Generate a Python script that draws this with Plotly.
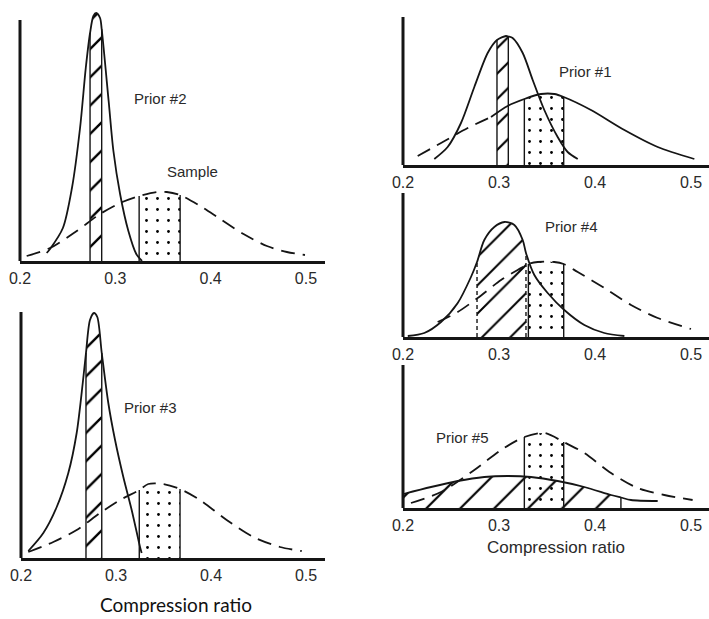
import numpy as np
import plotly.graph_objects as go

W, H = 709, 619

# ---------------- DATA (y in relative density units) ----------------
# Panel A : Prior #2 and sample
prior2_x = [0.228, 0.2315, 0.245, 0.2545, 0.263, 0.269, 0.2735, 0.277, 0.280, 0.284, 0.2857, 0.293, 0.298, 0.305, 0.3137, 0.322, 0.328]
prior2_y = [8, 12, 33, 73, 133, 193, 228, 245, 248, 243, 232, 160, 110, 67, 30, 7, 0]
sampleA_x = [0.207, 0.2315, 0.2595, 0.284, 0.305, 0.325, 0.3435, 0.354, 0.368, 0.389, 0.41, 0.4345, 0.459, 0.48, 0.499]
sampleA_y = [5, 13, 30, 47, 58, 65, 69, 69, 66, 55, 42, 27, 15, 9, 6]
prior2_band = [0.2735, 0.2857]
sampleA_band = [0.325, 0.368]

# Panel B : Prior #3 and sample
prior3_x = [0.2077, 0.2235, 0.2376, 0.2498, 0.2586, 0.265, 0.2684, 0.2726, 0.2768, 0.2803, 0.285, 0.2919, 0.299, 0.3077, 0.3165, 0.3253, 0.327]
prior3_y = [7, 25, 51, 85, 125, 175, 205, 238, 245, 241, 205, 155, 118, 81, 48, 11, 5]
sampleB_x = [0.2077, 0.234, 0.2586, 0.2832, 0.3042, 0.3245, 0.334, 0.3498, 0.3674, 0.3884, 0.4165, 0.4445, 0.4726, 0.4955]
sampleB_y = [6, 16, 28, 45, 58, 68, 74, 74, 69, 58, 38, 21, 11, 7]
prior3_band = [0.2684, 0.285]
sampleB_band = [0.3245, 0.3674]

# Panel C : Prior #1 and sample
prior1_x = [0.2326, 0.2465, 0.2604, 0.2743, 0.2882, 0.2979, 0.3073, 0.3097, 0.3142, 0.3247, 0.3351, 0.3472, 0.3611, 0.3715, 0.382]
prior1_y = [6, 18, 42, 78, 112, 125, 129, 128.5, 127, 112, 85, 55, 28, 13, 6]
sampleC_x = [0.2153, 0.2396, 0.2674, 0.2917, 0.309, 0.3264, 0.3438, 0.3576, 0.3674, 0.3958, 0.4306, 0.4653, 0.5035]
sampleC_y = [9, 22, 37, 48, 59, 66, 71, 71, 68, 55, 35, 18, 6]
sampleC_dash_end = 0.2917
prior1_band = [0.2979, 0.3097]
sampleC_band = [0.3264, 0.3674]

# Panel D : Prior #4 and sample
prior4_x = [0.205, 0.2222, 0.2396, 0.257, 0.2708, 0.2771, 0.2847, 0.2951, 0.3056, 0.316, 0.3247, 0.3281, 0.3368, 0.3507, 0.368, 0.3889, 0.4097, 0.4306]
prior4_y = [1, 4, 15, 34, 60, 75, 97, 110, 115, 112, 97, 84, 62, 44, 27, 12, 4, 1]
sampleD_x = [0.2361, 0.257, 0.2778, 0.3021, 0.3194, 0.3306, 0.3403, 0.3576, 0.3674, 0.382, 0.4097, 0.4375, 0.4653, 0.5]
sampleD_y = [15, 25, 39, 57, 67, 73, 75, 75, 73, 65, 49, 32, 19, 8]
prior4_band = [0.2771, 0.3281]
sampleD_band = [0.3306, 0.3674]

# Panel E : Prior #5 and sample
prior5_x = [0.2005, 0.2292, 0.257, 0.2847, 0.309, 0.3333, 0.3611, 0.3889, 0.4167, 0.427, 0.4375, 0.4653]
prior5_y = [14, 21, 27, 31, 32, 31, 27, 21, 13, 10.5, 8, 7]
sampleE_x = [0.2083, 0.2396, 0.2743, 0.3021, 0.3264, 0.3472, 0.3674, 0.3889, 0.4167, 0.4444, 0.4722, 0.5017]
sampleE_y = [5, 16, 38, 58, 71, 75, 66, 55, 35, 20, 13, 8]
prior5_band = [0.2005, 0.427]
sampleE_band = [0.3264, 0.3674]

tick_vals = [0.2, 0.3, 0.4, 0.5]
tick_text = ["0.2", "0.3", "0.4", "0.5"]

# ---------------- LAYOUT (pixel geometry of each panel) ----------------
panels = {
    "A": dict(l=20, r=325, xmax=0.52, b=261, t=6, yat=20),
    "B": dict(l=21, r=325, xmax=0.52, b=558, t=300, yat=312),
    "C": dict(l=403, r=709, xmax=0.51875, b=165, t=15, yat=17),
    "D": dict(l=403, r=709, xmax=0.51875, b=337, t=190, yat=193),
    "E": dict(l=403, r=709, xmax=0.51875, b=508, t=362, yat=365),
}
order = ["A", "B", "C", "D", "E"]

INK = "#151515"
FONT = "Liberation Sans, Arial, sans-serif"

fig = go.Figure()
layout = dict(width=W, height=H, margin=dict(l=0, r=0, t=0, b=0, autoexpand=False),
              paper_bgcolor="white", plot_bgcolor="rgba(0,0,0,0)", showlegend=False)
shapes = []
annotations = []

for i, key in enumerate(order):
    p = panels[key]
    sfx = "" if i == 0 else str(i + 1)
    layout["xaxis" + sfx] = dict(
        domain=[p["l"] / W, p["r"] / W], range=[0.2, p["xmax"]], anchor="y" + sfx,
        showline=True, linewidth=3, linecolor=INK, showgrid=False, zeroline=False,
        ticks="", tickvals=tick_vals, ticktext=tick_text, ticklabelstandoff=1,
        automargin=False,
        tickfont=dict(family=FONT, size=16, color="#2a2a2a"), fixedrange=True)
    layout["yaxis" + sfx] = dict(
        domain=[1 - p["b"] / H, 1 - p["t"] / H], range=[0, p["b"] - p["t"]], anchor="x" + sfx,
        visible=False, automargin=False, fixedrange=True)
    shapes.append(dict(type="line", xref="paper", yref="paper",
                       x0=p["l"] / W, x1=p["l"] / W, y0=1 - p["b"] / H, y1=1 - p["yat"] / H,
                       line=dict(color=INK, width=3)))


def axes(i):
    sfx = "" if i == 0 else str(i + 1)
    return "x" + sfx, "y" + sfx


def band(i, xs, ys, lims, pattern, size, solidity, edge_dash="solid"):
    xa, ya = axes(i)
    xs = np.asarray(xs, float)
    ys = np.asarray(ys, float)
    m = (xs >= lims[0] - 1e-9) & (xs <= lims[1] + 1e-9)
    bx, by = xs[m], ys[m]
    fig.add_trace(go.Scatter(
        x=bx, y=by, mode="lines", line=dict(width=0, shape="spline", smoothing=0.8),
        fill="tozeroy", fillcolor="rgba(0,0,0,0)",
        fillpattern=dict(shape=pattern, size=size, solidity=solidity,
                         fgcolor="#000000", fgopacity=1, bgcolor="rgba(0,0,0,0)", fillmode="overlay"),
        xaxis=xa, yaxis=ya, hoverinfo="skip"))
    fig.add_trace(go.Scatter(
        x=[bx[0], bx[0], None, bx[-1], bx[-1]], y=[0, by[0], None, 0, by[-1]],
        mode="lines", line=dict(color=INK, width=1.4, dash=edge_dash),
        xaxis=xa, yaxis=ya, hoverinfo="skip"))


def curve(i, xs, ys, dash="solid"):
    xa, ya = axes(i)
    fig.add_trace(go.Scatter(
        x=xs, y=ys, mode="lines",
        line=dict(color=INK, width=1.8, dash=dash, shape="spline", smoothing=0.8),
        xaxis=xa, yaxis=ya, hoverinfo="skip"))


DASH = "14px,8px"

# Panel A
band(0, prior2_x, prior2_y, prior2_band, "/", 20, 0.12)
band(0, sampleA_x, sampleA_y, sampleA_band, ".", 11, 0.05)
curve(0, sampleA_x, sampleA_y, DASH)
curve(0, prior2_x, prior2_y)

# Panel B
band(1, prior3_x, prior3_y, prior3_band, "/", 20, 0.12)
band(1, sampleB_x, sampleB_y, sampleB_band, ".", 11, 0.05)
curve(1, sampleB_x, sampleB_y, DASH)
curve(1, prior3_x, prior3_y)

# Panel C
band(2, prior1_x, prior1_y, prior1_band, "/", 18, 0.12)
band(2, sampleC_x, sampleC_y, sampleC_band, ".", 11, 0.05)
sx = np.asarray(sampleC_x)
sy = np.asarray(sampleC_y)
curve(2, sx[sx <= sampleC_dash_end], sy[sx <= sampleC_dash_end], DASH)
curve(2, sx[sx >= sampleC_dash_end], sy[sx >= sampleC_dash_end])
curve(2, prior1_x, prior1_y)

# Panel D
band(3, prior4_x, prior4_y, prior4_band, "/", 20, 0.1, edge_dash="4px,3px")
band(3, sampleD_x, sampleD_y, sampleD_band, ".", 11, 0.05)
curve(3, sampleD_x, sampleD_y, DASH)
curve(3, prior4_x, prior4_y)

# Panel E
band(4, prior5_x, prior5_y, prior5_band, "/", 24, 0.09)
band(4, sampleE_x, sampleE_y, sampleE_band, ".", 11, 0.05)
curve(4, sampleE_x, sampleE_y, DASH)
curve(4, prior5_x, prior5_y)

# Text labels (placed in data coordinates of each panel)
labels = [
    (0, 0.347, 163, "Prior #2"),
    (0, 0.3815, 90, "Sample"),
    (1, 0.3358, 151, "Prior #3"),
    (2, 0.3906, 93, "Prior #1"),
    (3, 0.376, 110, "Prior #4"),
    (4, 0.2615, 71, "Prior #5"),
]
for i, x, y, t in labels:
    xa, ya = axes(i)
    annotations.append(dict(x=x, y=y, xref=xa, yref=ya, text=t, showarrow=False,
                            xanchor="center", yanchor="middle",
                            font=dict(family=FONT, size=15, color="#2a2a2a")))

annotations.append(dict(x=556 / W, y=1 - 547 / H, xref="paper", yref="paper",
                        text="Compression ratio", showarrow=False,
                        xanchor="center", yanchor="middle",
                        font=dict(family=FONT, size=17, color="#2a2a2a")))
annotations.append(dict(x=176 / W, y=1 - 604 / H, xref="paper", yref="paper",
                        text="Compression ratio", showarrow=False,
                        xanchor="center", yanchor="middle",
                        font=dict(family="Lato, Open Sans, sans-serif", size=19, color="#111")))

layout["shapes"] = shapes
layout["annotations"] = annotations
fig.update_layout(**layout)

fig.write_html("out.html", config={"displayModeBar": False},
               post_script="document.body.style.margin='0px';")
